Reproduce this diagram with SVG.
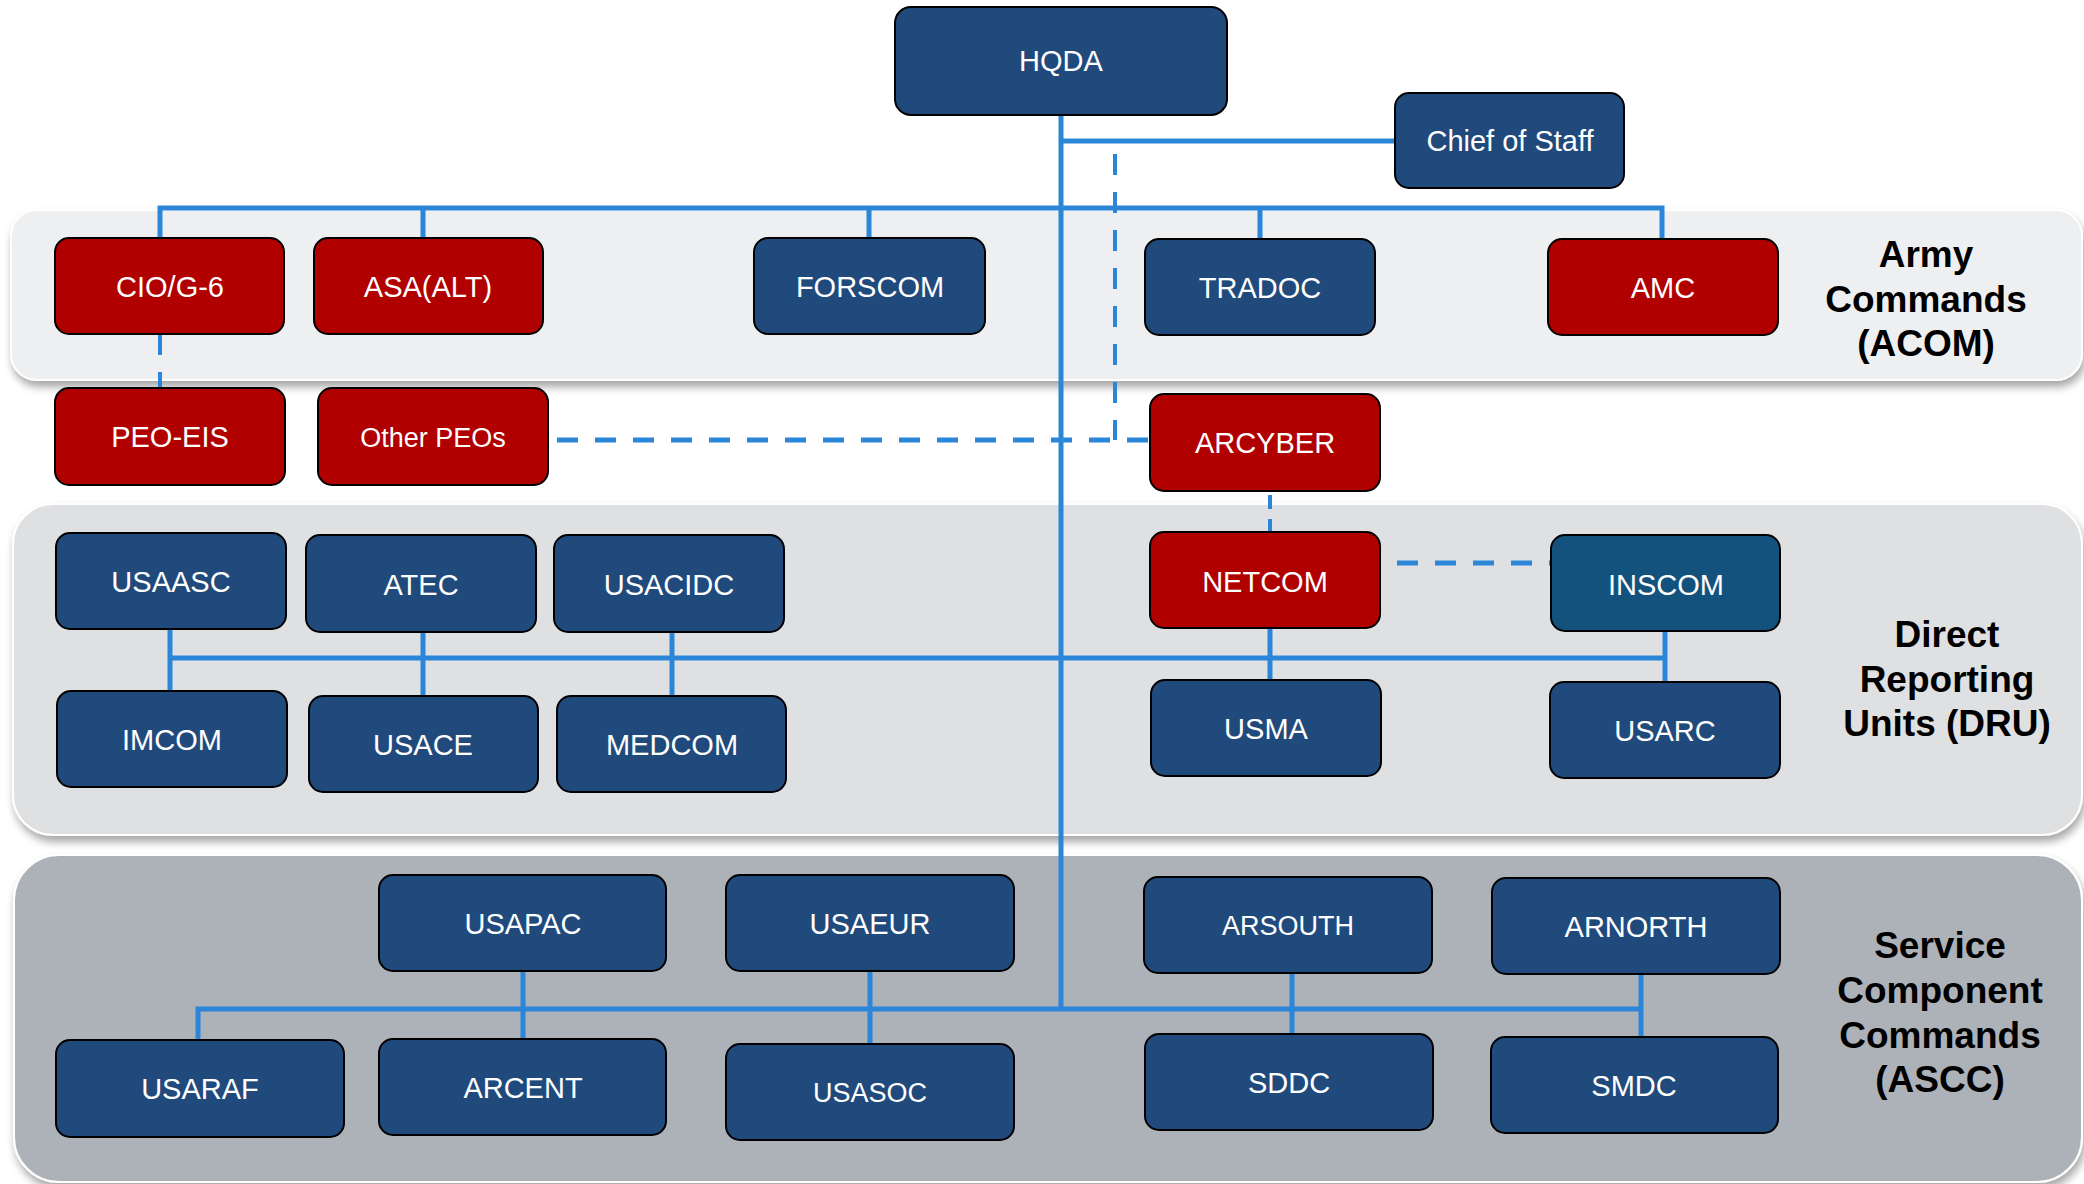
<svg xmlns="http://www.w3.org/2000/svg" width="2084" height="1184" viewBox="0 0 2084 1184">
<defs>
<filter id="bandShadow" x="-5%" y="-10%" width="110%" height="125%">
<feGaussianBlur in="SourceAlpha" stdDeviation="4"/>
<feOffset dx="2" dy="6" result="b"/>
<feComponentTransfer><feFuncA type="linear" slope="0.35"/></feComponentTransfer>
<feMerge><feMergeNode/><feMergeNode in="SourceGraphic"/></feMerge>
</filter>
<style>
.band{stroke:#ffffff;stroke-width:2}
.node rect{stroke:#000;stroke-width:2}
.blue{fill:#214A7C}
.red{fill:#B00000}
.teal{fill:#13527C}
.lbl{font-family:"Liberation Sans",Arial,sans-serif;font-size:29px;fill:#fff;text-anchor:middle}
.sm{font-size:27px}
.band-lbl{font-family:"Liberation Sans",Arial,sans-serif;font-size:37px;font-weight:bold;fill:#000;text-anchor:middle}
.ln{stroke:#2B86D9;stroke-width:5;fill:none}
.dash{stroke:#2B86D9;stroke-width:5;fill:none;stroke-dasharray:21 17}
</style>
</defs>
<rect width="2084" height="1184" fill="#ffffff"/>
<g id="bands">
<rect class="band" x="11" y="210" width="2071" height="170" rx="26" fill="#EEEFF1" filter="url(#bandShadow)"/>
<rect class="band" x="13" y="504" width="2069" height="331" rx="40" fill="#DFE0E2" filter="url(#bandShadow)"/>
<rect class="band" x="14" y="855" width="2068" height="327" rx="45" fill="#ADB1B8" filter="url(#bandShadow)"/>
</g>
<g id="band-labels">
<text class="band-lbl" x="1926" y="267">Army</text>
<text class="band-lbl" x="1926" y="312">Commands</text>
<text class="band-lbl" x="1926" y="356">(ACOM)</text>
<text class="band-lbl" x="1947" y="647">Direct</text>
<text class="band-lbl" x="1947" y="692">Reporting</text>
<text class="band-lbl" x="1947" y="736">Units (DRU)</text>
<text class="band-lbl" x="1940" y="958">Service</text>
<text class="band-lbl" x="1940" y="1003">Component</text>
<text class="band-lbl" x="1940" y="1048">Commands</text>
<text class="band-lbl" x="1940" y="1092">(ASCC)</text>
</g>
<g id="connectors">
<path class="ln" d="M1061 115 V1011"/>
<path class="ln" d="M1061 141 H1395"/>
<path class="ln" d="M160 238 V208 H1662 V238 M423 208 V238 M869 208 V238 M1260 208 V239"/>
<path class="dash" d="M1115 154 V440" style="stroke-width:4"/>
<path class="dash" d="M557 440 H1150"/>
<path class="dash" d="M160 334 V388" style="stroke-width:4"/>
<path class="dash" d="M1270 495 V532" style="stroke-width:4;stroke-dasharray:14 10"/>
<path class="dash" d="M1397 563 H1551"/>
<path class="ln" d="M170 629 V691 M170 658 H1665 M423 632 V696 M672 632 V696 M1270 628 V680 M1665 631 V682"/>
<path class="ln" d="M198 1040 V1009 H1641 M523 971 V1039 M870 971 V1044 M1292 973 V1034 M1641 974 V1037"/>
</g>
<g id="HQDA" class="node"><rect class="blue" x="895" y="7" width="332" height="108" rx="16"/><text class="lbl" x="1061" y="71">HQDA</text></g>
<g id="ChiefOfStaff" class="node"><rect class="blue" x="1395" y="93" width="229" height="95" rx="14"/><text class="lbl" x="1510" y="151">Chief of Staff</text></g>
<g id="CIO-G6" class="node"><rect class="red" x="55" y="238" width="229" height="96" rx="14"/><text class="lbl" x="170" y="297">CIO/G-6</text></g>
<g id="ASA-ALT" class="node"><rect class="red" x="314" y="238" width="229" height="96" rx="14"/><text class="lbl" x="428" y="297">ASA(ALT)</text></g>
<g id="FORSCOM" class="node"><rect class="blue" x="754" y="238" width="231" height="96" rx="14"/><text class="lbl" x="870" y="297">FORSCOM</text></g>
<g id="TRADOC" class="node"><rect class="blue" x="1145" y="239" width="230" height="96" rx="14"/><text class="lbl" x="1260" y="298">TRADOC</text></g>
<g id="AMC" class="node"><rect class="red" x="1548" y="239" width="230" height="96" rx="14"/><text class="lbl" x="1663" y="298">AMC</text></g>
<g id="PEO-EIS" class="node"><rect class="red" x="55" y="388" width="230" height="97" rx="14"/><text class="lbl" x="170" y="447">PEO-EIS</text></g>
<g id="OtherPEOs" class="node"><rect class="red" x="318" y="388" width="230" height="97" rx="14"/><text class="lbl sm" x="433" y="447">Other PEOs</text></g>
<g id="ARCYBER" class="node"><rect class="red" x="1150" y="394" width="230" height="97" rx="14"/><text class="lbl" x="1265" y="453">ARCYBER</text></g>
<g id="USAASC" class="node"><rect class="blue" x="56" y="533" width="230" height="96" rx="14"/><text class="lbl" x="171" y="592">USAASC</text></g>
<g id="ATEC" class="node"><rect class="blue" x="306" y="535" width="230" height="97" rx="14"/><text class="lbl" x="421" y="595">ATEC</text></g>
<g id="USACIDC" class="node"><rect class="blue" x="554" y="535" width="230" height="97" rx="14"/><text class="lbl" x="669" y="595">USACIDC</text></g>
<g id="NETCOM" class="node"><rect class="red" x="1150" y="532" width="230" height="96" rx="14"/><text class="lbl" x="1265" y="592">NETCOM</text></g>
<g id="INSCOM" class="node"><rect class="teal" x="1551" y="535" width="229" height="96" rx="14"/><text class="lbl" x="1666" y="595">INSCOM</text></g>
<g id="IMCOM" class="node"><rect class="blue" x="57" y="691" width="230" height="96" rx="14"/><text class="lbl" x="172" y="750">IMCOM</text></g>
<g id="USACE" class="node"><rect class="blue" x="309" y="696" width="229" height="96" rx="14"/><text class="lbl" x="423" y="755">USACE</text></g>
<g id="MEDCOM" class="node"><rect class="blue" x="557" y="696" width="229" height="96" rx="14"/><text class="lbl" x="672" y="755">MEDCOM</text></g>
<g id="USMA" class="node"><rect class="blue" x="1151" y="680" width="230" height="96" rx="14"/><text class="lbl" x="1266" y="739">USMA</text></g>
<g id="USARC" class="node"><rect class="blue" x="1550" y="682" width="230" height="96" rx="14"/><text class="lbl" x="1665" y="741">USARC</text></g>
<g id="USAPAC" class="node"><rect class="blue" x="379" y="875" width="287" height="96" rx="14"/><text class="lbl" x="523" y="934">USAPAC</text></g>
<g id="USAEUR" class="node"><rect class="blue" x="726" y="875" width="288" height="96" rx="14"/><text class="lbl" x="870" y="934">USAEUR</text></g>
<g id="ARSOUTH" class="node"><rect class="blue" x="1144" y="877" width="288" height="96" rx="14"/><text class="lbl sm" x="1288" y="935">ARSOUTH</text></g>
<g id="ARNORTH" class="node"><rect class="blue" x="1492" y="878" width="288" height="96" rx="14"/><text class="lbl" x="1636" y="937">ARNORTH</text></g>
<g id="USARAF" class="node"><rect class="blue" x="56" y="1040" width="288" height="97" rx="14"/><text class="lbl" x="200" y="1099">USARAF</text></g>
<g id="ARCENT" class="node"><rect class="blue" x="379" y="1039" width="287" height="96" rx="14"/><text class="lbl" x="523" y="1098">ARCENT</text></g>
<g id="USASOC" class="node"><rect class="blue" x="726" y="1044" width="288" height="96" rx="14"/><text class="lbl sm" x="870" y="1102">USASOC</text></g>
<g id="SDDC" class="node"><rect class="blue" x="1145" y="1034" width="288" height="96" rx="14"/><text class="lbl" x="1289" y="1093">SDDC</text></g>
<g id="SMDC" class="node"><rect class="blue" x="1491" y="1037" width="287" height="96" rx="14"/><text class="lbl" x="1634" y="1096">SMDC</text></g>
</svg>
